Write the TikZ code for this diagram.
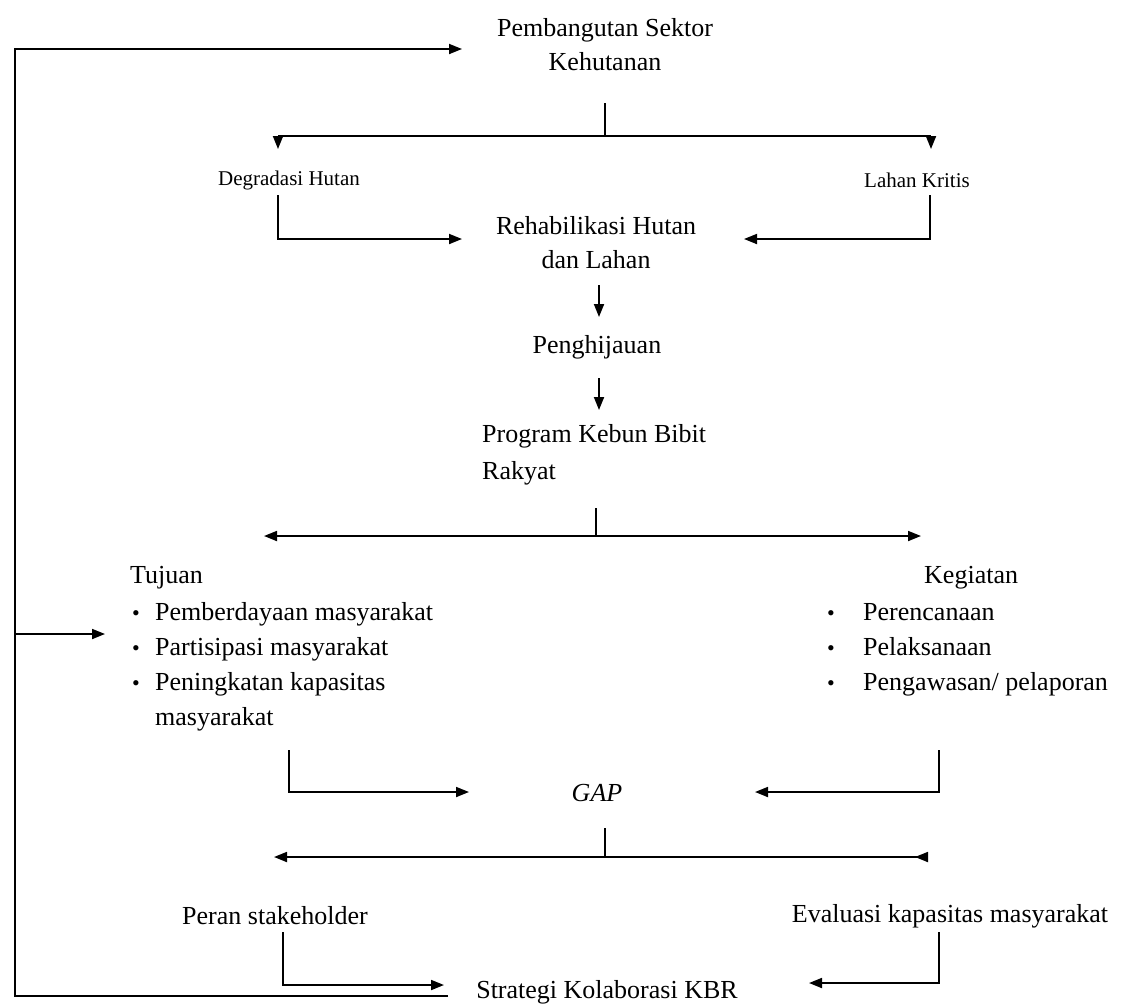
\documentclass[tikz,border=0pt]{standalone}
\usepackage{fontspec}
\setmainfont{Liberation Serif}
\usetikzlibrary{arrows.meta}
\begin{document}
\begin{tikzpicture}[x=1pt,y=-1pt,
  lbl/.style={font=\fontsize{26}{34}\selectfont, inner sep=0pt, align=center},
  sml/.style={font=\fontsize{21}{26}\selectfont, inner sep=0pt},
  bul/.style={font=\fontsize{22}{24}\selectfont, inner sep=0pt, anchor=base},
  ln/.style={line width=1.8pt},
  arr/.style={ln, -{Triangle[length=13pt,width=10pt]}},
  rarr/.style={ln, -{Triangle[length=13pt,width=10pt,reversed]}},
]
\useasboundingbox[fill=white] (0,0) rectangle (1126,1005);

% ---- nodes ----
\node[lbl] (pem) at (605,45) {Pembangutan Sektor\\Kehutanan};
\node[sml] (deg) at (289,180) {Degradasi Hutan};
\node[sml] (lk) at (917,180) {Lahan Kritis};
\node[lbl] (reh) at (596,243) {Rehabilikasi Hutan\\dan Lahan};
\node[lbl] (pen) at (597,347) {Penghijauan};
\node[lbl, font=\fontsize{26}{37}\selectfont, align=left, anchor=north west] (prog) at (482,424) {Program Kebun Bibit\\Rakyat};

\node[lbl, anchor=base west] (tuj) at (130,583) {Tujuan};
\node[bul] (tb1) at (136,620) {\textbullet};
\node[bul] (tb2) at (136,655) {\textbullet};
\node[bul] (tb3) at (136,690) {\textbullet};
\node[lbl, anchor=base west] (t1) at (155,620) {Pemberdayaan masyarakat};
\node[lbl, anchor=base west] (t2) at (155,655) {Partisipasi masyarakat};
\node[lbl, anchor=base west] (t3) at (155,690) {Peningkatan kapasitas};
\node[lbl, anchor=base west] (t4) at (155,725) {masyarakat};

\node[lbl, anchor=base west] (keg) at (924,583) {Kegiatan};
\node[bul] (kb1) at (831,620) {\textbullet};
\node[bul] (kb2) at (831,655) {\textbullet};
\node[bul] (kb3) at (831,690) {\textbullet};
\node[lbl, anchor=base west] (k1) at (863,620) {Perencanaan};
\node[lbl, anchor=base west] (k2) at (863,655) {Pelaksanaan};
\node[lbl, anchor=base west] (k3) at (863,690) {Pengawasan/ pelaporan};

\node[lbl, font=\fontsize{26}{34}\selectfont\itshape] (gap) at (597,793) {GAP};
\node[lbl] (per) at (275,916) {Peran stakeholder};
\node[lbl] (eva) at (950,916) {Evaluasi kapasitas masyarakat};
\node[lbl] (str) at (607,992) {Strategi Kolaborasi KBR};

% ---- coordinates ----
\coordinate (loopT) at (15,49);
\coordinate (pemL) at (462,49);
\coordinate (loopM) at (15,634);
\coordinate (tujL) at (105,634);
\coordinate (loopB) at (15,996);
\coordinate (strL) at (448,996);

\coordinate (s1a) at (605,103);
\coordinate (s1b) at (605,136);
\coordinate (s1l) at (278,136);
\coordinate (s1r) at (931,136);

\coordinate (degA) at (278,195);
\coordinate (rehL) at (462,239);
\coordinate (lkA) at (930,195);
\coordinate (rehR) at (744,239);

\coordinate (a1a) at (599,285);
\coordinate (a1b) at (599,317);
\coordinate (a2a) at (599,378);
\coordinate (a2b) at (599,410);

\coordinate (s2a) at (596,508);
\coordinate (s2b) at (596,536);
\coordinate (s2l) at (264,536);
\coordinate (s2r) at (921,536);

\coordinate (tujA) at (289,750);
\coordinate (gapL) at (469,792);
\coordinate (kegA) at (939,750);
\coordinate (gapR) at (755,792);

\coordinate (s3a) at (605,828);
\coordinate (s3b) at (605,857);
\coordinate (s3l) at (274,857);
\coordinate (s3r) at (928,857);

\coordinate (perA) at (283,932);
\coordinate (strPL) at (444,985);
\coordinate (evaA) at (939,932);
\coordinate (strPR) at (809,983);

% ---- connectors ----
\draw[arr] (strL) -- (loopB) -- (loopT) -- (pemL);
\draw[arr] (loopM) -- (tujL);

\draw[ln] (s1a) -- (s1b);
\draw[ln] (s1l) -- (s1r);
\draw[arr] (s1l) -- ++(0,13);
\draw[arr] (s1r) -- ++(0,13);

\draw[arr] (degA) |- (rehL);
\draw[arr] (lkA) |- (rehR);

\draw[arr] (a1a) -- (a1b);
\draw[arr] (a2a) -- (a2b);

\draw[ln] (s2a) -- (s2b);
\draw[arr] (s2b) -- (s2l);
\draw[arr] (s2b) -- (s2r);

\draw[arr] (tujA) |- (gapL);
\draw[arr] (kegA) |- (gapR);

\draw[ln] (s3a) -- (s3b);
\draw[arr] (s3b) -- (s3l);
\draw[rarr] (s3b) -- (s3r);

\draw[arr] (perA) |- (strPL);
\draw[arr] (evaA) |- (strPR);
\end{tikzpicture}
\end{document}
